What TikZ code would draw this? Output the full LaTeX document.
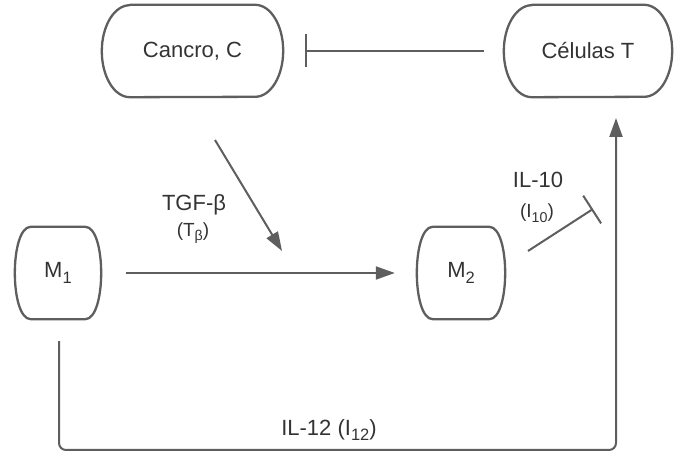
\documentclass[tikz,border=0pt]{standalone}
\usepackage{fontspec}
\setmainfont{Liberation Sans}
\usetikzlibrary{arrows.meta,calc}
\definecolor{lc}{HTML}{5E5E5E}
\definecolor{tc}{HTML}{333333}
\newcommand{\mysub}[1]{\raisebox{-0.25em}{\scalebox{0.75}{#1}}}
\newcommand{\termshape}[1]{%
  \draw[outl] ($(#1.north west)+(28,0)$) -- ($(#1.north east)+(-28,0)$)
    arc[start angle=90,end angle=-90,x radius=28pt,y radius=46pt]
    -- ($(#1.south west)+(28,0)$)
    arc[start angle=270,end angle=90,x radius=28pt,y radius=46pt] -- cycle;}
\newcommand{\barrelshape}[1]{%
  \draw[outl] ($(#1.north west)+(16,0)$) -- ($(#1.north east)+(-16,0)$)
    .. controls ($(#1.north east)+(5.3,0)$) and ($(#1.south east)+(5.3,0)$) .. ($(#1.south east)+(-16,0)$)
    -- ($(#1.south west)+(16,0)$)
    .. controls ($(#1.south west)+(-5.3,0)$) and ($(#1.north west)+(-5.3,0)$) .. ($(#1.north west)+(16,0)$) -- cycle;}
\begin{document}
\begin{tikzpicture}[x=1pt,y=1pt,line join=round,
  outl/.style={draw=lc,line width=2.3pt},
  conn/.style={draw=lc,line width=2pt},
  tri/.style={-{Triangle[length=19pt,width=13pt]}},
  inh/.style={-{Bar[width=33pt]}},
  box/.style={minimum height=92pt,inner sep=0pt,text=tc,font=\fontsize{22}{26}\selectfont},
  lbl/.style={inner sep=0pt,text=tc,font=\fontsize{22}{26}\selectfont},
  slbl/.style={inner sep=0pt,text=tc,font=\fontsize{19}{22}\selectfont}]
\useasboundingbox (0,0) rectangle (675,455);
\node[box,minimum width=181pt] (C) at (192.5,404) {Cancro, C};
\node[box,minimum width=168pt] (T) at (588,404) {Células T};
\node[box,minimum width=86pt] (M1) at (58,182) {M\mysub{1}};
\node[box,minimum width=88pt] (M2) at (461,182) {M\mysub{2}};
\termshape{C}
\termshape{T}
\barrelshape{M1}
\barrelshape{M2}
% connectors
\draw[conn,inh] ($(T.west)+(-20,0)$) -- ($(C.east)+(22,0)$);
\coordinate (tgfs) at (215,315);
\coordinate (tgfe) at (282,204);
\draw[conn,tri] (tgfs) -- (tgfe);
\draw[conn,tri] ($(M1.east)+(25,0)$) -- ($(M2.west)+(-22,0)$);
\coordinate (i10s) at (528,204);
\coordinate (i10e) at (593,246);
\draw[conn,inh] (i10s) -- (i10e);
\coordinate (lb) at (616,5);
\coordinate (lt) at (616,337);
\draw[conn,tri,rounded corners=7pt] ($(M1.south)+(1,-22)$) |- (lb) -- (lt);
% labels
\node[lbl] (tgf) at (194,250) {TGF-β};
\node[slbl] (tb) at (193,222) {(T\mysub{β})};
\node[lbl] (il10) at (538,275) {IL-10};
\node[slbl] (i10) at (537,242) {(I\mysub{10})};
\node[lbl] (il12) at (329,25) {IL-12 (I\mysub{12})};
\end{tikzpicture}
\end{document}
